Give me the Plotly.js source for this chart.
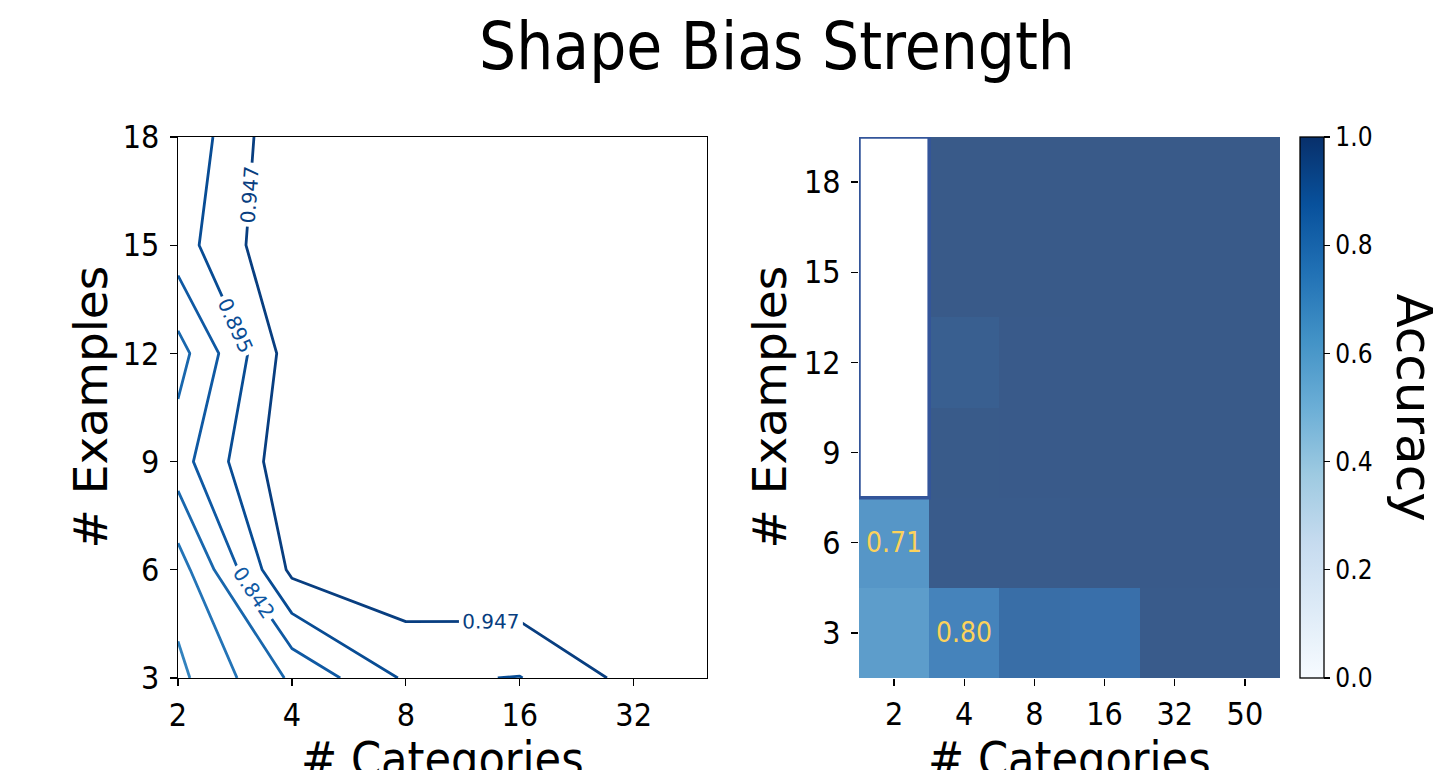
<!DOCTYPE html>
<html>
<head>
<meta charset="utf-8">
<script src="https://cdn.plot.ly/plotly-3.0.1.min.js"></script>
<style>
  html, body { margin: 0; padding: 0; background: #ffffff; }
  #chart { width: 1447px; height: 770px; }
</style>
</head>
<body>
<div id="chart"></div>
<script>
// ---- data ----
const categories = [2, 4, 8, 16, 32, 50];
const examples = [3, 6, 9, 12, 15, 18];

// left panel (contour): accuracy per # examples row, ordered by categories
const contourAcc3  = [0.671, 0.798, 0.902, 0.893, 0.964, 0.970];
const contourAcc6  = [0.710, 0.960, 0.989, 0.997, 0.996, 0.995];
const contourAcc9  = [0.819, 0.990, 0.994, 0.998, 0.998, 0.998];
const contourAcc12 = [0.768, 0.975, 0.995, 0.998, 0.998, 0.998];
const contourAcc15 = [0.871, 0.999, 0.998, 0.999, 0.999, 0.999];
const contourAcc18 = [0.850, 0.996, 0.998, 0.999, 0.999, 0.999];

// right panel (heatmap): accuracy per # examples row, null = empty cell
const heatAcc3  = [0.675, 0.798, 0.902, 0.893, 0.990, 0.990];
const heatAcc6  = [0.710, 0.990, 0.992, 0.996, 0.996, 0.996];
const heatAcc9  = [null, 0.994, 0.996, 0.998, 0.998, 0.998];
const heatAcc12 = [null, 0.975, 0.996, 0.998, 0.998, 0.998];
const heatAcc15 = [null, 0.998, 0.998, 0.998, 0.998, 0.998];
const heatAcc18 = [null, 0.998, 0.998, 0.998, 0.998, 0.998];

const contourLevelCount = 20;          // levels = linspace(0, 1, 20)
const xTickVals = [2, 4, 8, 16, 32];
const yTickVals = [3, 6, 9, 12, 15, 18];
const cbTicks = [0, 0.2, 0.4, 0.6, 0.8, 1.0];
// heatmap cells with a value label, as [categories, examples]
const labeledCells = [[2, 6], [4, 3]];

const contourRows = [contourAcc3, contourAcc6, contourAcc9, contourAcc12, contourAcc15, contourAcc18];
const heatRows = [heatAcc3, heatAcc6, heatAcc9, heatAcc12, heatAcc15, heatAcc18];

// ---- styling ----
const Blues = [
  [0, '#f7fbff'], [0.125, '#deebf7'], [0.25, '#c6dbef'], [0.375, '#9ecae1'],
  [0.5, '#6baed6'], [0.625, '#4292c6'], [0.75, '#2171b5'], [0.875, '#08519c'], [1, '#08306b']
];
const W = 1447, H = 770;
const px = v => v / W;
const py = v => 1 - v / H;
const plotTop = 137, plotBottom = 678;
const plotMid = (plotTop + plotBottom) / 2;
const leftDom = [178, 707], rightDom = [859, 1280];
const condFont = 'DejaVu Sans Condensed, DejaVu Sans, sans-serif';
const normFont = 'DejaVu Sans, sans-serif';

const catLabels = categories.map(String);

const contourTrace = {
  type: 'contour',
  x: categories,
  y: examples,
  z: contourRows,
  xaxis: 'x', yaxis: 'y',
  zmin: 0, zmax: 1, zauto: false,
  colorscale: Blues,
  showscale: false,
  autocontour: false,
  contours: {
    coloring: 'lines',
    start: 0, end: 1, size: 1 / (contourLevelCount - 1),
    showlabels: true,
    labelformat: '.3f',
    labelfont: { family: normFont, size: 20 }
  },
  line: { width: 2.8, smoothing: 0 },
  hoverinfo: 'skip'
};

const heatTrace = {
  type: 'heatmap',
  x: catLabels,
  y: examples,
  z: heatRows,
  xaxis: 'x2', yaxis: 'y2',
  zmin: 0, zmax: 1, zauto: false,
  colorscale: Blues,
  opacity: 0.8,
  colorbar: {
    x: px(1300), xanchor: 'left', xpad: 0,
    y: py(plotMid), yanchor: 'middle', ypad: 0,
    len: plotBottom - plotTop, lenmode: 'pixels',
    thickness: 24, thicknessmode: 'pixels',
    outlinecolor: '#000', outlinewidth: 1.3,
    ticks: 'outside', ticklen: 6, tickwidth: 1.3, tickcolor: '#000',
    tickvals: cbTicks, tickformat: '.1f',
    tickfont: { family: condFont, size: 26, color: '#000' }
  },
  hoverinfo: 'skip'
};

const xTitleFont = { family: condFont, size: 48, color: '#000' };
const yTitleFont = { family: normFont, size: 47, color: '#000' };

const annotations = labeledCells.map(c => {
  const ci = categories.indexOf(c[0]);
  const ri = examples.indexOf(c[1]);
  return {
    xref: 'x2', yref: 'y2', x: ci, y: examples[ri],
    text: heatRows[ri][ci].toFixed(2), showarrow: false,
    font: { family: condFont, size: 28, color: '#fcd25a' }
  };
});
// axis titles and colorbar title
[
  { text: '# Categories', x: px((leftDom[0] + leftDom[1]) / 2), y: py(759), angle: 0, font: xTitleFont },
  { text: '# Categories', x: px((rightDom[0] + rightDom[1]) / 2), y: py(759), angle: 0, font: xTitleFont },
  { text: '# Examples', x: px(90), y: py(plotMid), angle: -90, font: yTitleFont },
  { text: '# Examples', x: px(769), y: py(plotMid), angle: -90, font: yTitleFont },
  { text: 'Accuracy', x: px(1414), y: py(plotMid), angle: 90, font: { family: normFont, size: 50, color: '#000' } }
].forEach(a => annotations.push({
  xref: 'paper', yref: 'paper', x: a.x, y: a.y, text: a.text, textangle: a.angle,
  showarrow: false, xanchor: 'center', yanchor: 'middle', font: a.font
}));

// outline around the empty heatmap cells
const emptyCols = [], emptyYs = [];
heatRows.forEach((row, ri) => row.forEach((v, ci) => {
  if (v === null) { emptyCols.push(ci); emptyYs.push(examples[ri]); }
}));
const rowStep = examples[1] - examples[0];
const shapes = [{
  type: 'rect', xref: 'x2', yref: 'y2', layer: 'above',
  x0: Math.min(...emptyCols) - 0.5, x1: Math.max(...emptyCols) + 0.5,
  y0: Math.min(...emptyYs) - rowStep / 2, y1: Math.max(...emptyYs) + rowStep / 2,
  line: { color: '#33559a', width: 3.5 }, fillcolor: 'rgba(0,0,0,0)'
}];

const tickFont = { family: condFont, size: 32, color: '#000' };

const baseAxis = {
  ticks: 'outside', ticklen: 7, tickwidth: 1.3, tickcolor: '#000',
  showgrid: false, zeroline: false, tickfont: tickFont, automargin: false
};

const layout = {
  width: W, height: H,
  margin: { l: 0, r: 0, t: 0, b: 0 },
  paper_bgcolor: '#fff', plot_bgcolor: '#fff',
  showlegend: false,
  title: {
    text: 'Shape Bias Strength',
    x: px(777), xanchor: 'center', y: py(46), yanchor: 'middle',
    font: { family: condFont, size: 65, color: '#000' }
  },
  xaxis: Object.assign({}, baseAxis, {
    domain: [px(leftDom[0]), px(leftDom[1])],
    type: 'log', range: [Math.log10(categories[0]), Math.log10(categories[categories.length - 1])],
    tickvals: xTickVals, ticktext: xTickVals.map(String),
    showline: true, mirror: true, linecolor: '#000', linewidth: 1.3,
    ticklabelstandoff: 1, anchor: 'y'
  }),
  yaxis: Object.assign({}, baseAxis, {
    domain: [py(plotBottom), py(plotTop)],
    range: [examples[0], examples[examples.length - 1]],
    tickvals: yTickVals,
    showline: true, mirror: true, linecolor: '#000', linewidth: 1.3,
    ticklabelstandoff: 4, anchor: 'x'
  }),
  xaxis2: Object.assign({}, baseAxis, {
    domain: [px(rightDom[0]), px(rightDom[1])],
    type: 'category', range: [-0.5, categories.length - 0.5],
    showline: false, ticklabelstandoff: 1, anchor: 'y2'
  }),
  yaxis2: Object.assign({}, baseAxis, {
    domain: [py(plotBottom), py(plotTop)],
    range: [examples[0] - rowStep / 2, examples[examples.length - 1] + rowStep / 2],
    tickvals: yTickVals,
    showline: false, ticklabelstandoff: 4, anchor: 'x2'
  }),
  annotations: annotations,
  shapes: shapes
};

Plotly.newPlot('chart', [heatTrace, contourTrace], layout, { displayModeBar: false, staticPlot: true });
</script>
</body>
</html>
